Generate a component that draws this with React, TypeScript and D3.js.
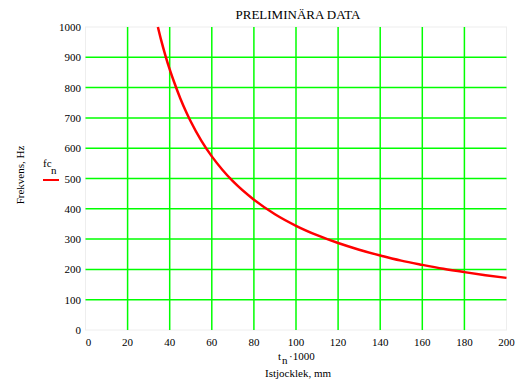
import React from "react";
import * as d3 from "d3";

const thickness = [34.4, 36, 38, 40, 42, 45, 48, 50, 55, 60, 65, 70, 80, 90, 100, 110, 120, 130, 140, 150, 160, 170, 180, 190, 200];
const frequency = [1000, 955, 905, 860, 820, 765, 717, 688, 625, 573, 529, 491, 430, 382, 344, 313, 287, 265, 246, 229, 215, 202, 191, 181, 172];
const xTicks = [0, 20, 40, 60, 80, 100, 120, 140, 160, 180, 200];
const yTicks = [0, 100, 200, 300, 400, 500, 600, 700, 800, 900, 1000];

export default function App() {
  const W = 522, H = 383;
  const left = 85.5, right = 506.5, top = 27, bottom = 330;
  const x = d3.scaleLinear().domain([0, 200]).range([left, right]);
  const y = d3.scaleLinear().domain([0, 1000]).range([bottom, top]);
  const line = d3.line<number>().x((_, i) => x(thickness[i])).y((d) => y(d)).curve(d3.curveMonotoneX);
  return (
    <svg width={W} height={H} style={{ position: "absolute", left: 0, top: 0, fontFamily: "\"Liberation Serif\", serif" }}>
      <rect x={0} y={0} width={W} height={H} fill="#fff" />
      <rect x={left} y={top} width={right - left} height={bottom - top} fill="none" stroke="#eeeeee" strokeWidth={1} />
      {xTicks.filter((t) => t > 0 && t < 200).map((t) => (
        <line key={"gx" + t} x1={x(t)} x2={x(t)} y1={top} y2={bottom} stroke="#00ff00" strokeWidth={1.5} />
      ))}
      {yTicks.filter((t) => t > 0 && t < 1000).map((t) => (
        <line key={"gy" + t} x1={left} x2={right} y1={y(t)} y2={y(t)} stroke="#00ff00" strokeWidth={1.5} />
      ))}
      <path d={line(frequency) || ""} fill="none" stroke="#ff0000" strokeWidth={2.5} />
      {yTicks.map((t) => (
        <text key={"ty" + t} x={81} y={y(t) + 4} textAnchor="end" fontSize={11}>{t}</text>
      ))}
      {xTicks.map((t) => (
        <text key={"tx" + t} x={t === 0 ? x(t) + 3 : x(t)} y={346} textAnchor="middle" fontSize={11}>{t}</text>
      ))}
      <text x={298} y={19} textAnchor="middle" fontSize={13}>PRELIMINÄRA DATA</text>
      <text transform="translate(24,175) rotate(-90)" textAnchor="middle" fontSize={11}>Frekvens, Hz</text>
      <text x={43} y={167} fontSize={11}>fc</text>
      <text x={51} y={174} fontSize={11}>n</text>
      <line x1={43} x2={59} y1={180} y2={180} stroke="#ff0000" strokeWidth={2} />
      <text x={278} y={360} fontSize={11}>t</text>
      <text x={282} y={364} fontSize={11}>n</text>
      <text x={289} y={360} fontSize={11}>·1000</text>
      <text x={298} y={377} textAnchor="middle" fontSize={11}>Istjocklek, mm</text>
    </svg>
  );
}
